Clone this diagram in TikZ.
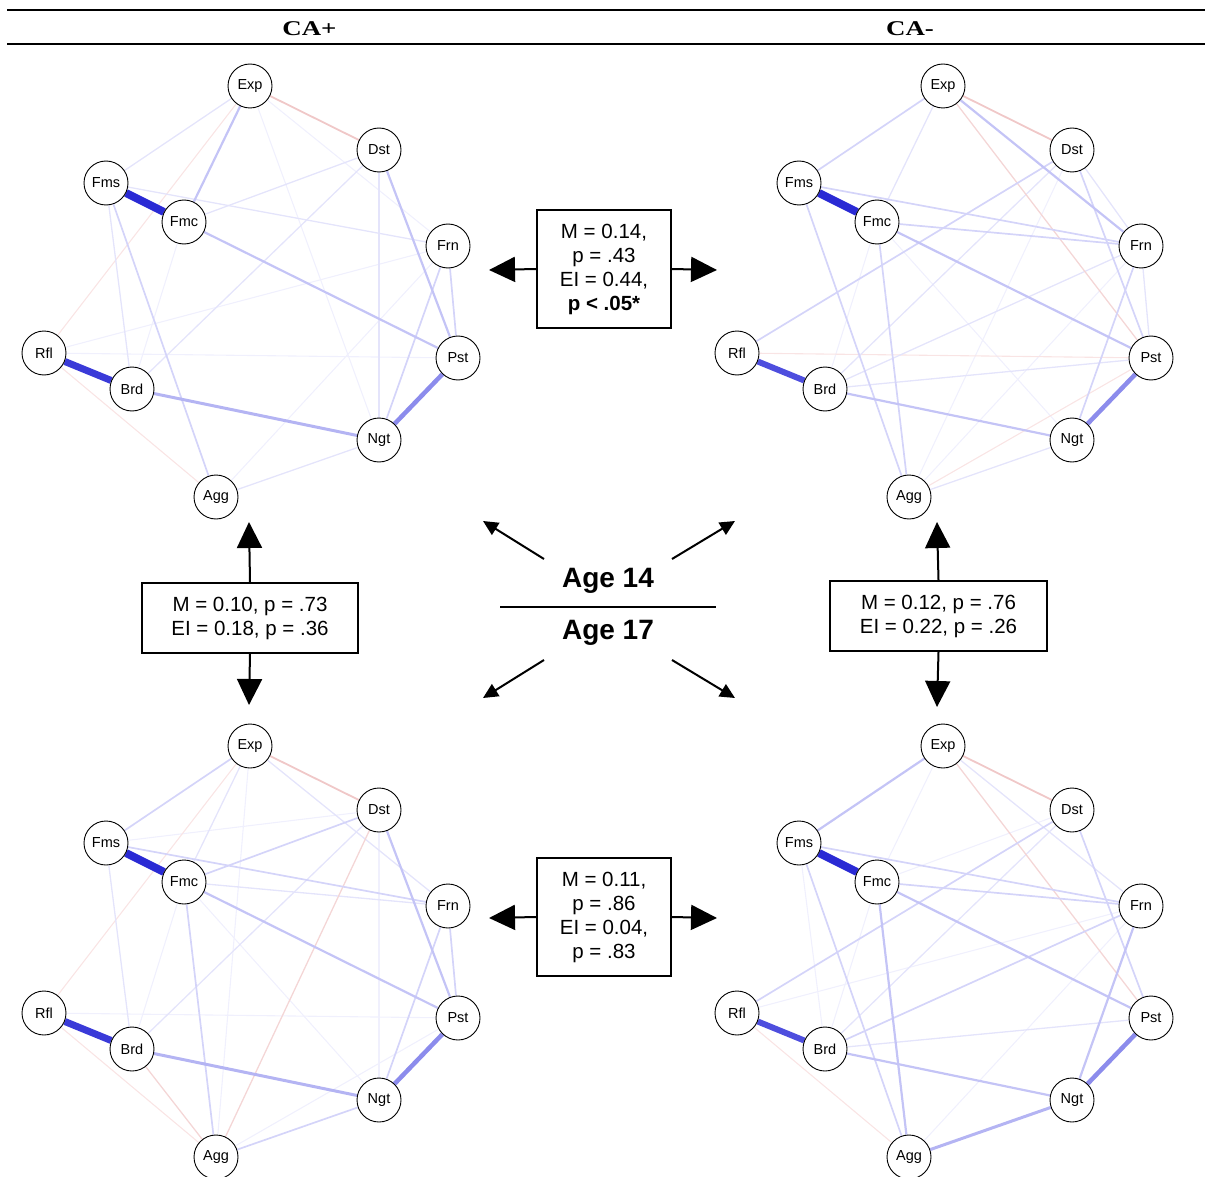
\documentclass[tikz,border=0pt]{standalone}
\usepackage{graphicx}
\usepackage{fontspec}
\setmainfont{Liberation Sans}
\newfontfamily\hdrfont{Liberation Serif}
\usetikzlibrary{arrows.meta}
\pgfdeclarelayer{edgelayer}
\pgfsetlayers{edgelayer,main}
\definecolor{cA}{RGB}{42,42,212}
\definecolor{cA2}{RGB}{58,58,216}
\definecolor{cB}{RGB}{78,78,222}
\definecolor{cM}{RGB}{140,140,236}
\definecolor{cL}{RGB}{180,180,243}
\definecolor{cL2}{RGB}{196,196,246}
\definecolor{cL3}{RGB}{212,212,249}
\definecolor{cF}{RGB}{228,228,251}
\definecolor{cV}{RGB}{240,240,253}
\definecolor{rL}{RGB}{240,200,200}
\definecolor{rM}{RGB}{244,214,214}
\definecolor{rF}{RGB}{249,228,228}
\tikzset{
  nd/.style={circle,draw=black,line width=0.9pt,fill=white,minimum size=44pt,inner sep=0pt,font=\fontsize{14.5}{15}\selectfont},
  eA/.style={draw=cA,line width=8pt},
  eA2/.style={draw=cA2,line width=7pt},
  eB/.style={draw=cB,line width=6pt},
  eM/.style={draw=cM,line width=4.5pt},
  eL/.style={draw=cL,line width=3pt},
  eL2/.style={draw=cL2,line width=2.2pt},
  eL3/.style={draw=cL3,line width=1.7pt},
  eF/.style={draw=cF,line width=1.3pt},
  eV/.style={draw=cV,line width=1.1pt},
  rL/.style={draw=rL,line width=1.8pt},
  rM/.style={draw=rM,line width=1.3pt},
  rF/.style={draw=rF,line width=1.1pt},
  statbox/.style={draw=black,line width=2pt,inner sep=0pt,align=center,font=\fontsize{20.5}{24}\selectfont},
  bigarr/.style={line width=2pt,-{Triangle[length=26pt,width=25pt]}},
  diagarr/.style={line width=2pt,-{Triangle[length=15pt,width=14pt]}},
  rulel/.style={line width=2pt}
}
\newcommand{\netnodes}[3]{%
\begin{scope}[shift={(#2,#3)}]
\node[nd] (Exp#1) at (250,86) {Exp};
\node[nd] (Dst#1) at (379,150) {Dst};
\node[nd] (Fms#1) at (106,183) {Fms};
\node[nd] (Fmc#1) at (184,222) {Fmc};
\node[nd] (Frn#1) at (448,246) {Frn};
\node[nd] (Rfl#1) at (44,353) {Rfl};
\node[nd] (Pst#1) at (458,358) {Pst};
\node[nd] (Brd#1) at (132,389) {Brd};
\node[nd] (Ngt#1) at (379,440) {Ngt};
\node[nd] (Agg#1) at (216,497) {Agg};
\end{scope}}
\newcommand{\E}[3]{\draw[#1] (#2\P) -- (#3\P);}
\begin{document}
\begin{tikzpicture}[x=1pt,y=-1pt]
\useasboundingbox (0,0) rectangle (1205,1177);
% header
\coordinate (h1l) at (7,10); \coordinate (h1r) at (1205,10);
\coordinate (h2l) at (7,44.5); \coordinate (h2r) at (1205,44.5);
\draw[rulel] (h1l) -- (h1r);
\draw[rulel] (h2l) -- (h2r);
\node[font=\hdrfont\bfseries\fontsize{21}{21}\selectfont] (hA) at (309.5,29) {\scalebox{1.28}[1]{CA+}};
\node[font=\hdrfont\bfseries\fontsize{21}{21}\selectfont] (hB) at (910,29) {\scalebox{1.28}[1]{CA-}};
% networks
\netnodes{A}{0}{0}
\netnodes{B}{693}{0}
\netnodes{C}{0}{660}
\netnodes{D}{693}{660}
\begin{pgfonlayer}{edgelayer}
% ---- A: CA+ age 14
\def\P{A}
\E{eV}{Fmc}{Brd}\E{eV}{Frn}{Rfl}\E{eV}{Frn}{Agg}\E{eV}{Rfl}{Pst}\E{eV}{Exp}{Ngt}\E{eV}{Exp}{Frn}
\E{rF}{Exp}{Rfl}\E{rF}{Rfl}{Agg}
\E{eF}{Exp}{Fms}\E{eF}{Dst}{Fmc}\E{eF}{Dst}{Brd}\E{eF}{Dst}{Ngt}\E{eF}{Fms}{Frn}\E{eF}{Fms}{Brd}\E{eF}{Ngt}{Agg}
\E{rL}{Exp}{Dst}
\E{eL3}{Frn}{Pst}\E{eL3}{Frn}{Ngt}\E{eL3}{Fms}{Agg}
\E{eL2}{Exp}{Fmc}\E{eL2}{Dst}{Pst}\E{eL2}{Fmc}{Pst}
\E{eL}{Brd}{Ngt}
\E{eM}{Pst}{Ngt}
\E{eA}{Fms}{Fmc}\E{eA2}{Rfl}{Brd}
% ---- B: CA- age 14
\def\P{B}
\E{eV}{Dst}{Agg}\E{eV}{Fmc}{Brd}\E{eV}{Fmc}{Ngt}\E{eV}{Frn}{Agg}
\E{rF}{Rfl}{Pst}\E{rF}{Pst}{Agg}
\E{eF}{Exp}{Fmc}\E{eF}{Dst}{Frn}\E{eF}{Dst}{Brd}\E{eF}{Frn}{Pst}\E{eF}{Brd}{Pst}\E{eF}{Ngt}{Agg}\E{eF}{Frn}{Brd}
\E{rL}{Exp}{Dst}\E{rM}{Exp}{Pst}
\E{eL3}{Exp}{Fms}\E{eL3}{Dst}{Rfl}\E{eL3}{Dst}{Pst}\E{eL3}{Fms}{Frn}\E{eL3}{Fmc}{Frn}\E{eL3}{Fms}{Agg}\E{eL3}{Fmc}{Agg}\E{eL3}{Frn}{Ngt}
\E{eL2}{Exp}{Frn}
\E{eL2}{Brd}{Ngt}\E{eL2}{Fmc}{Pst}
\E{eM}{Pst}{Ngt}
\E{eA}{Fms}{Fmc}\E{eB}{Rfl}{Brd}
% ---- C: CA+ age 17
\def\P{C}
\E{eV}{Exp}{Agg}\E{eV}{Dst}{Fms}\E{eV}{Dst}{Ngt}\E{eV}{Fmc}{Brd}\E{eV}{Fmc}{Ngt}\E{eV}{Rfl}{Pst}\E{eV}{Pst}{Agg}
\E{rF}{Exp}{Rfl}\E{rF}{Rfl}{Agg}
\E{eF}{Exp}{Fmc}\E{eF}{Exp}{Frn}\E{eF}{Dst}{Brd}\E{eF}{Fmc}{Frn}\E{eF}{Fms}{Brd}
\E{rM}{Dst}{Agg}\E{rM}{Brd}{Agg}
\E{rL}{Exp}{Dst}
\E{eL3}{Exp}{Fms}\E{eL3}{Dst}{Fmc}\E{eL3}{Fms}{Frn}\E{eL3}{Fmc}{Agg}\E{eL3}{Frn}{Pst}\E{eL3}{Frn}{Ngt}\E{eL3}{Ngt}{Agg}
\E{eL2}{Dst}{Pst}\E{eL2}{Fmc}{Pst}
\E{eL}{Brd}{Ngt}
\E{eM}{Pst}{Ngt}
\E{eA}{Fms}{Fmc}\E{eA2}{Rfl}{Brd}
% ---- D: CA- age 17
\def\P{D}
\E{eV}{Exp}{Fmc}\E{eV}{Dst}{Fmc}\E{eV}{Fms}{Brd}\E{eV}{Frn}{Rfl}\E{eV}{Frn}{Agg}\E{eV}{Fmc}{Brd}
\E{rF}{Rfl}{Agg}
\E{eF}{Exp}{Frn}\E{eF}{Dst}{Brd}\E{eF}{Brd}{Pst}
\E{rM}{Exp}{Pst}
\E{rL}{Exp}{Dst}
\E{eL3}{Dst}{Rfl}\E{eL3}{Dst}{Pst}\E{eL3}{Fms}{Frn}\E{eL3}{Fmc}{Frn}\E{eL3}{Fms}{Agg}\E{eL3}{Frn}{Brd}
\E{eL2}{Fmc}{Agg}\E{eL2}{Fmc}{Pst}\E{eL2}{Brd}{Ngt}
\E{eL2}{Exp}{Fms}\E{eL2}{Frn}{Ngt}
\E{eL}{Ngt}{Agg}
\E{eM}{Pst}{Ngt}
\E{eA}{Fms}{Fmc}\E{eB}{Rfl}{Brd}
\end{pgfonlayer}
% stat boxes
\node[statbox,minimum width=134pt,minimum height=118pt] (bT) at (604,269) {M = 0.14,\\p = .43\\EI = 0.44,\\\textbf{p < .05*}};
\node[statbox,minimum width=134pt,minimum height=118pt] (bB) at (604,917) {M = 0.11,\\p = .86\\EI = 0.04,\\p = .83};
\node[statbox,minimum width=216pt,minimum height=70pt] (bL) at (250,618) {M = 0.10, p = .73\\EI = 0.18, p = .36};
\node[statbox,minimum width=217pt,minimum height=70pt] (bR) at (938.5,616) {M = 0.12, p = .76\\EI = 0.22, p = .26};
\coordinate (tTL) at (489,270); \coordinate (tTR) at (717,270);
\coordinate (tBL) at (489,918); \coordinate (tBR) at (717,918);
\coordinate (tLU) at (249,522); \coordinate (tLD) at (249,705);
\coordinate (tRU) at (937,522); \coordinate (tRD) at (937,707);
\draw[bigarr] (bT.west) -- (tTL);
\draw[bigarr] (bT.east) -- (tTR);
\draw[bigarr] (bB.west) -- (tBL);
\draw[bigarr] (bB.east) -- (tBR);
\draw[bigarr] (bL.north) -- (tLU);
\draw[bigarr] (bL.south) -- (tLD);
\draw[bigarr] (bR.north) -- (tRU);
\draw[bigarr] (bR.south) -- (tRD);
% centre
\node[font=\bfseries\fontsize{28}{28}\selectfont] (a14) at (608,581) {Age 14};
\node[font=\bfseries\fontsize{28}{28}\selectfont] (a17) at (608,633) {Age 17};
\coordinate (sepL) at (500,607); \coordinate (sepR) at (716,607);
\draw[rulel] (sepL) -- (sepR);
\coordinate (dUL0) at (544,559); \coordinate (dUL1) at (483,521);
\coordinate (dUR0) at (672,559); \coordinate (dUR1) at (735,521);
\coordinate (dLL0) at (544,660); \coordinate (dLL1) at (483,698);
\coordinate (dLR0) at (672,660); \coordinate (dLR1) at (735,698);
\draw[diagarr] (dUL0) -- (dUL1);
\draw[diagarr] (dUR0) -- (dUR1);
\draw[diagarr] (dLL0) -- (dLL1);
\draw[diagarr] (dLR0) -- (dLR1);
\end{tikzpicture}
\end{document}
